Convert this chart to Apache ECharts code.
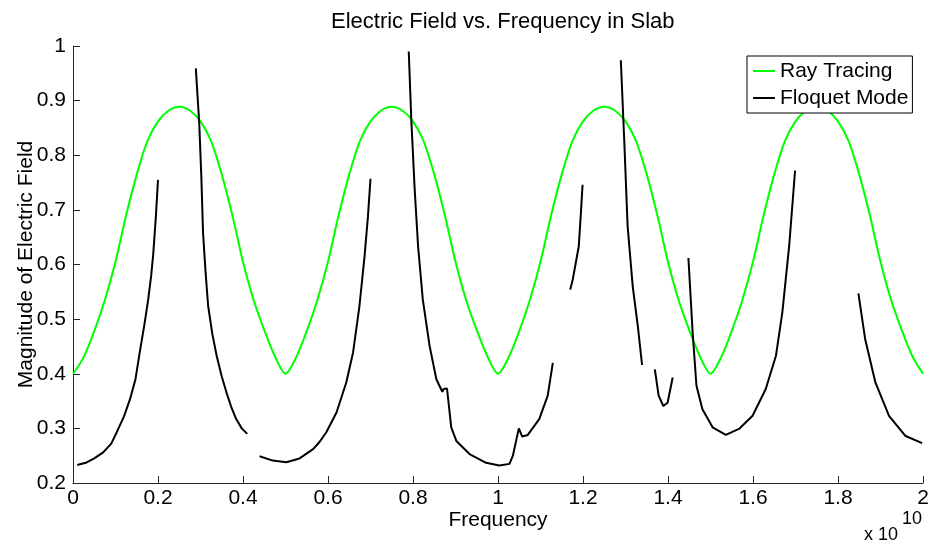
<!DOCTYPE html>
<html>
<head>
<meta charset="utf-8">
<script src="https://cdn.jsdelivr.net/npm/echarts@6/dist/echarts.min.js"></script>
<style>
html,body{margin:0;padding:0;background:#fff;}
#chart{width:936px;height:542px;}
</style>
</head>
<body>
<div id="chart"></div>
<script>
// ---- Data (frequency in units of 1e10 Hz) ----
var rayFreq = [0,0.025,0.05,0.075,0.1,0.125,0.15,0.175,0.2,0.225,0.25,0.275,0.3,0.325,0.35,0.375,0.4,0.425,0.45,0.475,
  0.5,0.525,0.55,0.575,0.6,0.625,0.65,0.675,0.7,0.725,0.75,0.775,0.8,0.825,0.85,0.875,0.9,0.925,0.95,0.975,
  1,1.025,1.05,1.075,1.1,1.125,1.15,1.175,1.2,1.225,1.25,1.275,1.3,1.325,1.35,1.375,1.4,1.425,1.45,1.475,
  1.5,1.525,1.55,1.575,1.6,1.625,1.65,1.675,1.7,1.725,1.75,1.775,1.8,1.825,1.85,1.875,1.9,1.925,1.95,1.975,2];
var rayMag = [0.400,0.430,0.478,0.535,0.605,0.690,0.765,0.826,0.862,0.882,0.889,0.882,0.862,0.826,0.765,0.690,0.605,0.535,0.480,0.432,
  0.400,0.430,0.478,0.535,0.605,0.690,0.765,0.826,0.862,0.882,0.889,0.882,0.862,0.826,0.765,0.690,0.605,0.535,0.480,0.432,
  0.400,0.430,0.478,0.535,0.605,0.690,0.765,0.826,0.862,0.882,0.889,0.882,0.862,0.826,0.765,0.690,0.605,0.535,0.480,0.432,
  0.400,0.430,0.478,0.535,0.605,0.690,0.765,0.826,0.862,0.882,0.889,0.882,0.862,0.826,0.765,0.690,0.605,0.535,0.480,0.432,0.400];

// null entries mark breaks between Floquet segments
var floquetFreq = [
  0.01,0.03,0.05,0.071,0.09,0.103,0.12,0.134,0.147,0.157,0.168,0.177,0.184,0.189,0.195,0.2, null,
  0.289,0.297,0.302,0.306,0.312,0.318,0.328,0.338,0.35,0.361,0.372,0.384,0.397,0.41, null,
  0.439,0.47,0.502,0.533,0.565,0.58,0.596,0.62,0.643,0.659,0.674,0.686,0.694,0.70, null,
  0.79,0.796,0.804,0.812,0.823,0.839,0.855,0.869,0.872,0.88,0.89,0.902,0.933,0.972,1.003,1.027,1.035,1.049,1.057,1.07,1.097,1.117,1.129, null,
  1.17,1.176,1.19,1.195,1.199, null,
  1.289,1.297,1.305,1.317,1.329,1.339, null,
  1.369,1.378,1.389,1.399,1.411, null,
  1.448,1.458,1.467,1.481,1.505,1.536,1.567,1.599,1.63,1.654,1.669,1.685,1.699, null,
  1.848,1.864,1.888,1.92,1.959,1.998];
var floquetMag = [
  0.233,0.237,0.245,0.256,0.272,0.293,0.322,0.353,0.39,0.439,0.49,0.536,0.58,0.621,0.688,0.755, null,
  0.959,0.859,0.76,0.658,0.585,0.524,0.472,0.433,0.395,0.366,0.34,0.317,0.30,0.29, null,
  0.249,0.241,0.238,0.245,0.262,0.275,0.293,0.329,0.384,0.439,0.524,0.615,0.688,0.757, null,
  0.99,0.865,0.737,0.633,0.536,0.451,0.39,0.367,0.372,0.373,0.302,0.277,0.253,0.237,0.232,0.235,0.25,0.30,0.285,0.288,0.317,0.36,0.42, null,
  0.554,0.573,0.633,0.694,0.746, null,
  0.974,0.828,0.67,0.56,0.487,0.416, null,
  0.408,0.36,0.341,0.347,0.393, null,
  0.612,0.475,0.378,0.335,0.302,0.288,0.299,0.323,0.372,0.433,0.512,0.633,0.772, null,
  0.547,0.463,0.384,0.323,0.286,0.273];

var seriesNames = ['Ray Tracing', 'Floquet Mode'];
var titleText = 'Electric Field vs. Frequency in Slab';
var xName = 'Frequency';
var yName = 'Magnitude of Electric Field';

// ---- build ----
var rayData = rayFreq.map(function (f, i) { return [f, rayMag[i]]; });
var floData = floquetFreq.map(function (f, i) {
  return (f === null || floquetMag[i] === null) ? [NaN, NaN] : [f, floquetMag[i]];
});

var FONT = '"Liberation Sans", Arial, Helvetica, sans-serif';
var chart = echarts.init(document.getElementById('chart'), null, {renderer: 'canvas'});
chart.setOption({
  animation: false,
  backgroundColor: '#ffffff',
  title: {
    text: titleText, left: 326, top: 6,
    textStyle: {fontFamily: FONT, fontSize: 22, fontWeight: 'normal', color: '#000'}
  },
  legend: {
    data: seriesNames,
    orient: 'vertical',
    left: 747, top: 56,
    padding: [3, 4, 3, 6],
    icon: 'rect',
    itemWidth: 22, itemHeight: 2, itemGap: 3,
    borderColor: '#000', borderWidth: 1,
    backgroundColor: '#fff',
    textStyle: {fontFamily: FONT, fontSize: 21, color: '#000', lineHeight: 24}
  },
  grid: {left: 73, right: 13, top: 46, bottom: 59, containLabel: false},
  xAxis: {
    type: 'value', min: 0, max: 2, interval: 0.2,
    name: xName, nameLocation: 'middle', nameGap: 27, nameMoveOverlap: false,
    nameTextStyle: {fontFamily: FONT, fontSize: 21, color: '#000'},
    axisLine: {show: true, onZero: false, lineStyle: {color: '#262626', width: 1}},
    axisTick: {show: true, inside: true, length: 7, lineStyle: {color: '#262626'}},
    axisLabel: {fontFamily: FONT, fontSize: 21, color: '#000', margin: 5,
      formatter: function (v) { return String(+v.toFixed(1)); }},
    splitLine: {show: false}
  },
  yAxis: {
    type: 'value', min: 0.2, max: 1, interval: 0.1,
    name: yName, nameLocation: 'middle', nameGap: 36, nameRotate: 90, nameMoveOverlap: false,
    nameTextStyle: {fontFamily: FONT, fontSize: 21, color: '#000'},
    axisLine: {show: true, onZero: false, lineStyle: {color: '#262626', width: 1}},
    axisTick: {show: true, inside: true, length: 7, lineStyle: {color: '#262626'}},
    axisLabel: {fontFamily: FONT, fontSize: 21, color: '#000', margin: 7,
      formatter: function (v) { return String(+v.toFixed(1)); }},
    splitLine: {show: false}
  },
  graphic: [
    {type: 'text', left: 864, top: 526, style: {text: 'x 10', font: '18px ' + FONT, fill: '#000'}},
    {type: 'text', left: 902, top: 510, style: {text: '10', font: '18px ' + FONT, fill: '#000'}}
  ],
  series: [
    {name: seriesNames[0], type: 'line', data: rayData, symbol: 'none', smooth: 0.3,
      lineStyle: {color: '#00ff00', width: 2}, itemStyle: {color: '#00ff00'}},
    {name: seriesNames[1], type: 'line', data: floData, symbol: 'none', connectNulls: false,
      lineStyle: {color: '#000000', width: 2}, itemStyle: {color: '#000000'}}
  ]
});
</script>
</body>
</html>
